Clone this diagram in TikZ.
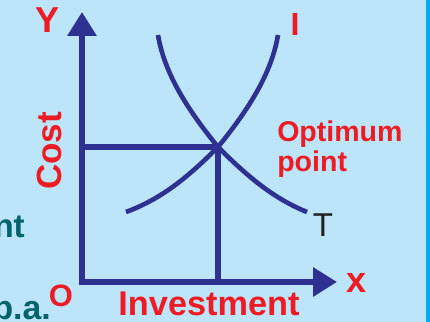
\documentclass[tikz,border=0pt]{standalone}
\usepackage{fontspec}
\setmainfont{Liberation Sans}
\usetikzlibrary{arrows.meta}
\definecolor{bgblue}{HTML}{BDE5F9}
\definecolor{edgecyan}{HTML}{00AEEF}
\definecolor{axisblue}{HTML}{2E3192}
\definecolor{lblred}{HTML}{ED1C24}
\definecolor{lblteal}{HTML}{00636B}
\definecolor{lblblack}{HTML}{231F20}
\newcommand{\lblsize}[1]{\fontsize{#1}{#1}\selectfont}

\begin{document}
\begin{tikzpicture}[x=0.025cm,y=0.025cm,
    axis/.style={draw=axisblue,line width=4pt,line join=miter,
      {Triangle[length=17pt,width=20pt]}-{Triangle[length=17pt,width=20pt]}},
    guide/.style={draw=axisblue,line width=3.6pt},
    curve/.style={draw=axisblue,line width=3.3pt},
    redlbl/.style={text=lblred,inner sep=0pt,font=\bfseries},
    tealbl/.style={text=lblteal,inner sep=0pt,font=\bfseries}]

    % Background and right edge strip
    \fill[bgblue] (0,0) rectangle (430,322);
    \fill[edgecyan] (426,0) rectangle (430,322);
    \useasboundingbox (0,0) rectangle (430,322);

    \coordinate (O) at (82,40);
    \coordinate (Ytip) at (82,310);
    \coordinate (Xtip) at (337,40);
    \coordinate (opt) at (218,175); % optimum point
    \coordinate (optX) at (218,40);
    \coordinate (optY) at (82,175);

    % Axes
    \draw[axis] (Ytip) -- (O) -- (Xtip);

    % Lines to the optimum point
    \draw[guide] (optY) -- (opt) -- (optX);

    % Curve T (falling) and curve I (rising), mirror images about x = 218
    \draw[curve] (158,287) .. controls (165,245) and (192,207) .. (opt)
                 .. controls (245,148) and (272,124) .. (307,110);
    \draw[curve] (126,110) .. controls (164,124) and (191,148) .. (opt)
                 .. controls (244,207) and (271,245) .. (278,287);

    % Labels
    \node[redlbl,font=\bfseries\lblsize{25.6}] (ylbl) at (48,302) {Y};
    \node[redlbl,font=\bfseries\lblsize{22.8}] (ilbl) at (295,298) {I};
    \node[redlbl,font=\bfseries\lblsize{20.3},anchor=base west] (optA) at (277,180) {Optimum};
    \node[redlbl,font=\bfseries\lblsize{20.3},anchor=base west] (optB) at (277,150) {point};
    \node[text=lblblack,inner sep=0pt,font=\lblsize{23.5}] (tlbl) at (323,97) {T};
    \node[redlbl,font=\bfseries\lblsize{24.9},rotate=90,anchor=base] (cost) at (62,171) {Cost};
    \node[redlbl,font=\bfseries\lblsize{22},anchor=base] (olbl) at (61,15) {O};
    \node[redlbl,font=\bfseries\lblsize{24.4},anchor=base] (inv) at (209,6) {Investment};
    \node[redlbl,font=\bfseries\lblsize{25.6},anchor=base] (xlbl) at (357,29) {x};

    % Cut-off text at the left
    \node[tealbl,font=\bfseries\lblsize{23.5},anchor=base east] (ntlbl) at (25,84) {nt};
    \node[tealbl,font=\bfseries\lblsize{24},anchor=base east] (palbl) at (51,2) {p.a.};

\end{tikzpicture}
\end{document}
